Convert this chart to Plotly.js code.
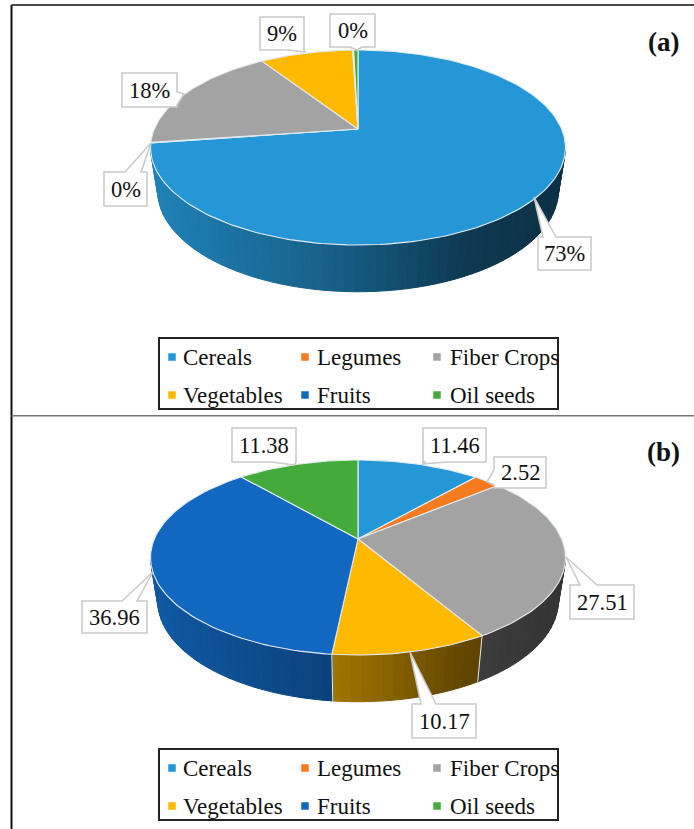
<!DOCTYPE html>
<html>
<head>
<meta charset="utf-8">
<script src="https://cdn.plot.ly/plotly-3.0.1.min.js"></script>
<style>html,body{margin:0;padding:0;background:#fff}#chart{width:694px;height:829px}</style>
</head>
<body>
<div id="chart"></div>
<script>
// ---- data ----
const categories = ['Cereals', 'Legumes', 'Fiber Crops', 'Vegetables', 'Fruits', 'Oil seeds'];
const sharesA = [72.7, 0.1, 18.0, 8.7, 0.1, 0.4];
const labelsA = ['73%', '0%', '18%', '9%', '', '0%'];
const sharesB = [11.46, 2.52, 27.51, 10.17, 36.96, 11.38];
const labelsB = ['11.46', '2.52', '27.51', '10.17', '36.96', '11.38'];
const panelTags = ['(a)', '(b)'];

// ---- styles ----
const colors = ['#2597d6', '#f47b20', '#a3a3a3', '#ffb900', '#1268c0', '#43aa3b'];
const serif = '"Liberation Serif", "Times New Roman", serif';
const rimColor = '#e4ebf0';

// ---- layout of the callouts: [x0, y0, x1, y1, edge, base1, base2, tipX, tipY] ----
const calloutsA = [
  [538, 237, 591, 270, 't', 543, 556, 534, 197],
  [104, 172, 147, 206, 't', 125, 141, 151, 143],
  [122, 73, 177, 107, 'r', 92, 105, 184, 94],
  [260, 17, 304, 50, 'b', 288, 304, 305, 52],
  null,
  [330, 14, 375, 47, 'b', 350, 362, 357, 50]
];
const calloutsB = [
  [423, 428, 486, 462, 'b', 425, 446, 423, 464],
  [494, 457, 546, 488, 'l', 470, 485, 487, 482],
  [570, 585, 634, 619, 't', 580, 597, 566, 557],
  [412, 704, 476, 738, 't', 421, 436, 410, 652],
  [82, 601, 147, 633, 't', 122, 137, 153, 572],
  [232, 428, 296, 462, 'b', 272, 296, 294, 465]
];
const legendCols = [[172, 183], [305, 317], [437, 450]];
const legendBoxes = [[159, 338, 558, 409], [159, 749, 558, 820]];
const legendRowOffsets = [19, 57];

// ---- pie projection (tilted disc seen in perspective) ----
const centerX = 358, k = 0.19, A = 203.7, B = 94;
const lowerScale = 0.965, lowerB = 97, lowerDrop = 43;

function rim(theta, apexY, lower) {
  const sx = Math.sin(theta), cy = Math.cos(theta), w = 1 + k * cy;
  const a = lower ? A * lowerScale : A, b = lower ? lowerB : B;
  return [centerX + a * sx / w, apexY + (lower ? lowerDrop : 0) - b * cy / w];
}

function shade(t) {
  const stops = [[0, 0.85], [0.44, 0.63], [0.77, 0.38], [1, 0.32]];
  for (let i = 1; i < stops.length; i++) {
    if (t <= stops[i][0]) {
      const u = (t - stops[i - 1][0]) / (stops[i][0] - stops[i - 1][0]);
      return stops[i - 1][1] + u * (stops[i][1] - stops[i - 1][1]);
    }
  }
  return 0.32;
}
function darken(hex, f) {
  const n = parseInt(hex.slice(1), 16);
  return 'rgb(' + [(n >> 16) & 255, (n >> 8) & 255, n & 255].map(v => Math.round(v * f)).join(',') + ')';
}

const traces = [];
const shapes = [];
const annotations = [];

function poly(xs, ys, fill, lineColor, lineWidth) {
  traces.push({
    type: 'scatter', mode: 'lines', x: xs, y: ys, fill: 'toself', fillcolor: fill,
    line: { color: lineColor, width: lineWidth }, hoverinfo: 'skip', showlegend: false
  });
}

function drawPie(values, labels, callouts, apexY, tag, tagY) {
  const total = values.reduce((s, v) => s + v, 0);
  const wallMin = 101 * Math.PI / 180, wallMax = 259 * Math.PI / 180, step = 2.5 * Math.PI / 180;
  let cum = 0;
  const spans = values.map(v => { const s = cum; cum += v; return [s / total * 2 * Math.PI, cum / total * 2 * Math.PI]; });

  // side wall
  spans.forEach((sp, i) => {
    const a0 = Math.max(sp[0], wallMin), a1 = Math.min(sp[1], wallMax);
    for (let a = a0; a < a1 - 1e-6; a += step) {
      const b = Math.min(a + step, a1);
      const p = [rim(a, apexY), rim(b, apexY), rim(b, apexY, true), rim(a, apexY, true)];
      const t = ((p[0][0] + p[1][0]) / 2 - (centerX - A)) / (2 * A);
      const col = darken(colors[i], shade(t));
      poly(p.map(q => q[0]).concat(p[0][0]), p.map(q => q[1]).concat(p[0][1]), col, col, 1);
    }
  });
  // wall seams between slices
  spans.forEach(sp => {
    if (sp[1] > wallMin && sp[1] < wallMax) {
      const u = rim(sp[1], apexY), l = rim(sp[1], apexY, true);
      traces.push({ type: 'scatter', mode: 'lines', x: [u[0], l[0]], y: [u[1], l[1]],
        line: { color: rimColor, width: 1 }, hoverinfo: 'skip', showlegend: false });
    }
  });
  // top face
  spans.forEach((sp, i) => {
    const xs = [centerX], ys = [apexY];
    const n = Math.max(2, Math.ceil((sp[1] - sp[0]) / (1.5 * Math.PI / 180)));
    for (let j = 0; j <= n; j++) {
      const p = rim(sp[0] + (sp[1] - sp[0]) * j / n, apexY);
      xs.push(p[0]); ys.push(p[1]);
    }
    xs.push(centerX); ys.push(apexY);
    poly(xs, ys, colors[i], rimColor, 1.1);
  });
  // callouts
  callouts.forEach((c, i) => {
    if (!c) return;
    const [x0, y0, x1, y1, e, b1, b2, tx, ty] = c;
    const pts = [[x0, y0]];
    if (e === 't') pts.push([b1, y0], [tx, ty], [b2, y0]);
    pts.push([x1, y0]);
    if (e === 'r') pts.push([x1, b1], [tx, ty], [x1, b2]);
    pts.push([x1, y1]);
    if (e === 'b') pts.push([b2, y1], [tx, ty], [b1, y1]);
    pts.push([x0, y1]);
    if (e === 'l') pts.push([x0, b2], [tx, ty], [x0, b1]);
    shapes.push({
      type: 'path', xref: 'x', yref: 'y', layer: 'above',
      path: 'M' + pts.map(p => p.join(',')).join('L') + 'Z',
      fillcolor: '#ffffff', line: { color: '#c9c9c9', width: 1.5 }
    });
    annotations.push({
      xref: 'x', yref: 'y', x: (x0 + x1) / 2, y: (y0 + y1) / 2, text: labels[i], showarrow: false,
      xanchor: 'center', yanchor: 'middle', font: { family: serif, size: 22.5, color: '#111' }
    });
  });
  // panel tag
  annotations.push({
    xref: 'x', yref: 'y', x: 663, y: tagY, text: '<b>' + tag + '</b>', showarrow: false,
    xanchor: 'center', yanchor: 'middle', font: { family: serif, size: 27, color: '#111' }
  });
}

function drawLegend(box) {
  const [x0, y0, x1, y1] = box;
  shapes.push({ type: 'rect', xref: 'x', yref: 'y', layer: 'below', x0, y0, x1, y1,
    fillcolor: '#fff', line: { color: '#222', width: 2 } });
  categories.forEach((name, i) => {
    const col = legendCols[i % 3], y = y0 + legendRowOffsets[Math.floor(i / 3)];
    traces.push({ type: 'scatter', mode: 'markers', x: [col[0]], y: [y],
      marker: { symbol: 'square', size: 7.5, color: colors[i] }, hoverinfo: 'skip', showlegend: false });
    annotations.push({ xref: 'x', yref: 'y', x: col[1], y, text: name, showarrow: false,
      xanchor: 'left', yanchor: 'middle', xshift: -2, font: { family: serif, size: 23, color: '#111' } });
  });
}

drawPie(sharesA, labelsA, calloutsA, 129, panelTags[0], 42);
drawPie(sharesB, labelsB, calloutsB, 539, panelTags[1], 452);
legendBoxes.forEach(drawLegend);

// panel frame
[[11.5, 5, 11.5, 829, '#111', 2], [11.5, 5, 694, 5, '#111', 1.5], [11.5, 415.7, 694, 415.7, '#777', 1.5]].forEach(l => {
  shapes.push({ type: 'line', xref: 'x', yref: 'y', layer: 'below', x0: l[0], y0: l[1], x1: l[2], y1: l[3],
    line: { color: l[4], width: l[5] } });
});

Plotly.newPlot('chart', traces, {
  width: 694, height: 829, margin: { l: 0, r: 0, t: 0, b: 0 },
  paper_bgcolor: '#fff', plot_bgcolor: '#fff', showlegend: false, hovermode: false,
  xaxis: { range: [0, 694], visible: false, fixedrange: true },
  yaxis: { range: [829, 0], visible: false, fixedrange: true },
  shapes, annotations
}, { displayModeBar: false, staticPlot: true });
</script>
</body>
</html>
